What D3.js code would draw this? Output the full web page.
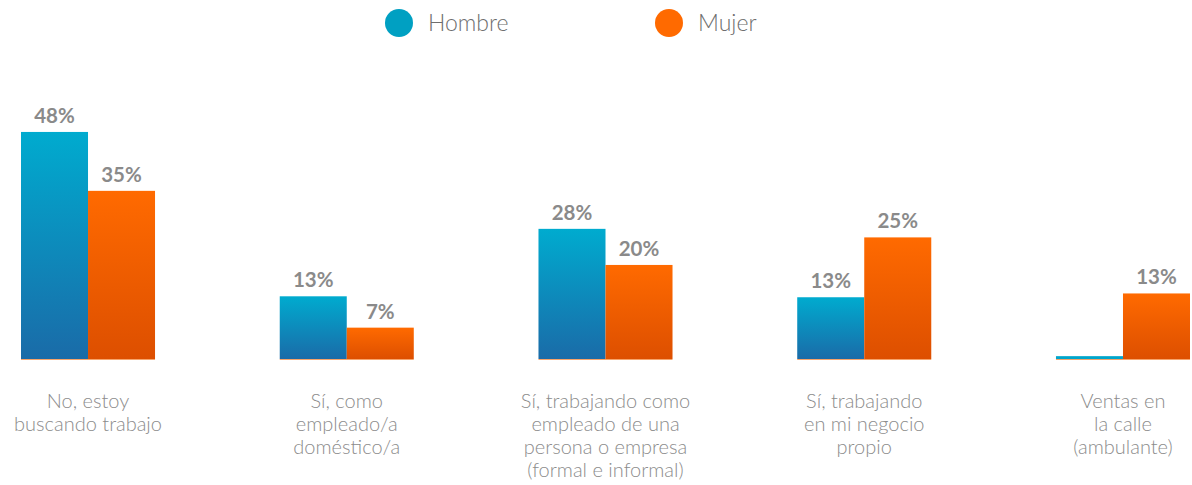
<!DOCTYPE html>
<html lang="es">
<head>
<meta charset="UTF-8">
<title></title>
<style>
  body { margin:0; background:#fff; }
  svg { display:block; font-family: Lato, "Open Sans", sans-serif; }
</style>
</head>
<body>
<script src="https://d3js.org/d3.v7.min.js"></script>
<script>
var width = 1192, height = 485;

var categories = [
  ['No, estoy', 'buscando trabajo'],
  ['Sí, como', 'empleado/a', 'doméstico/a'],
  ['Sí, trabajando como', 'empleado de una', 'persona o empresa', '(formal e informal)'],
  ['Sí, trabajando', 'en mi negocio', 'propio'],
  ['Ventas en', 'la calle', '(ambulante)']
];
var seriesNames = ['Hombre', 'Mujer'];
// values (labels are rounded)
var hombre = [47.8, 13.2, 27.4, 13.0, 0.6];
var mujer = [35.4, 6.6, 19.8, 25.6, 13.8];
var valueLabels = [['48%', '35%'], ['13%', '7%'], ['28%', '20%'], ['13%', '25%'], ['', '13%']];

var svg = d3.select('body').append('svg')
  .attr('width', width)
  .attr('height', height);

var defs = svg.append('defs');
function grad(id, top, bottom) {
  var g = defs.append('linearGradient').attr('id', id)
    .attr('x1', 0).attr('y1', 0).attr('x2', 0).attr('y2', 1);
  g.append('stop').attr('offset', '0%').attr('stop-color', top);
  g.append('stop').attr('offset', '100%').attr('stop-color', bottom);
}
grad('gH', '#00abcf', '#1a6ba8');
grad('gM', '#ff6a00', '#dd4f00');

var x0 = d3.scaleBand().domain(d3.range(categories.length))
  .range([21, 1190]).paddingInner(0.482).paddingOuter(0);
var x1 = d3.scaleBand().domain([0, 1]).range([0, x0.bandwidth()]);
var y = d3.scaleLinear().domain([0, 50]).range([359, 121.5]);

var data = categories.map(function(c, i) {
  return { i: i, vals: [hombre[i], mujer[i]], labels: valueLabels[i] };
});

var groups = svg.selectAll('g.grp').data(data).enter().append('g')
  .attr('class', 'grp')
  .attr('transform', function(d) { return 'translate(' + x0(d.i) + ',0)'; });

// thin baseline under each group
groups.append('line')
  .attr('x1', 0).attr('x2', x0.bandwidth())
  .attr('y1', y(0) + 0.5).attr('y2', y(0) + 0.5)
  .attr('stroke', '#f7a46b').attr('stroke-width', 1);

groups.selectAll('rect').data(function(d) { return d.vals; }).enter().append('rect')
  .attr('x', function(d, j) { return x1(j); })
  .attr('width', x1.bandwidth())
  .attr('y', function(d) { return y(d); })
  .attr('height', function(d) { return y(0) - y(d); })
  .attr('fill', function(d, j) {
    if (j === 0 && d < 2) return '#00a6cc';
    return j === 0 ? 'url(#gH)' : 'url(#gM)';
  });

groups.selectAll('text.val').data(function(d) {
    return d.vals.map(function(v, j) { return { v: v, t: d.labels[j], j: j }; });
  }).enter().append('text')
  .attr('class', 'val')
  .attr('x', function(d) { return x1(d.j) + x1.bandwidth() / 2; })
  .attr('y', function(d) { return y(d.v) - 9; })
  .attr('text-anchor', 'middle')
  .attr('font-size', 20.5)
  .attr('font-weight', 'bold')
  .attr('fill', '#8a8a8a')
  .text(function(d) { return d.t; });

// category labels
var cat = groups.append('text')
  .attr('text-anchor', 'middle')
  .attr('font-size', 20)
  .attr('font-weight', 300)
  .attr('fill', '#8c8c8c');
cat.selectAll('tspan').data(function(d) { return categories[d.i]; }).enter().append('tspan')
  .attr('x', x0.bandwidth() / 2)
  .attr('y', function(d, k) { return 408 + k * 23; })
  .text(function(d) { return d; });

// legend
var legendX = [399, 669];
var legendColors = ['#00a0c2', '#ff6a00'];
var leg = svg.selectAll('g.leg').data(seriesNames).enter().append('g')
  .attr('class', 'leg')
  .attr('transform', function(d, i) { return 'translate(' + legendX[i] + ',23)'; });
leg.append('circle').attr('r', 14).attr('fill', function(d, i) { return legendColors[i]; });
leg.append('text')
  .attr('x', 29).attr('y', 8)
  .attr('font-size', 23)
  .attr('font-weight', 300)
  .attr('fill', '#6e6e6e')
  .text(function(d) { return d; });
</script>
</body>
</html>
